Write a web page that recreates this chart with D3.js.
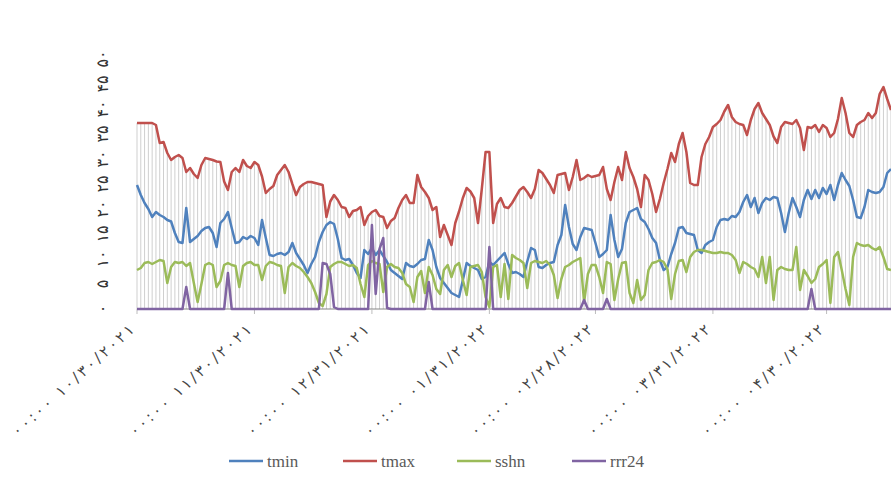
<!DOCTYPE html>
<html>
<head>
  <meta charset="utf-8">
  <title>tmin tmax sshn rrr24</title>
  <script src="https://d3js.org/d3.v7.min.js"></script>
  <style>
    body { margin: 0; background: #fff; }
  </style>
</head>
<body>
<div id="chart"></div>
<script type="text/javascript">
  // daily series, 30 Oct 2021 onwards
  const startDate = new Date(2021, 9, 30);

  const tmax = [
    37.2,37.2,37.2,37.2,37.2,36.8,33.2,33.4,31.2,29.8,
    30.4,30.8,30.2,27.4,28.2,27.0,26.2,28.8,30.2,30.0,
    29.8,29.5,29.4,25.5,23.8,27.4,28.2,27.4,29.8,28.6,
    28.2,29.4,28.8,26.5,23.2,24.0,24.6,26.8,27.8,28.8,
    27.4,25.0,22.8,24.4,25.0,25.4,25.4,25.2,25.0,24.8,
    18.4,21.5,22.8,21.8,20.4,20.2,18.4,19.6,19.8,20.4,
    16.8,18.6,19.4,19.8,18.6,18.4,16.2,17.6,18.2,20.2,
    21.8,22.8,21.2,21.2,26.8,24.4,23.4,22.2,19.8,20.4,
    14.4,16.8,14.8,12.8,17.2,19.5,22.2,24.2,23.5,22.2,
    17.2,24.0,31.4,31.4,17.2,21.0,22.2,20.4,20.2,21.2,
    22.5,23.8,24.4,23.4,22.2,24.0,27.8,27.2,26.0,24.8,
    23.2,26.8,27.0,27.2,23.8,26.4,29.8,25.8,26.2,26.8,
    26.4,26.6,26.8,28.4,24.0,21.8,25.4,28.4,25.8,31.4,
    28.2,26.4,24.0,20.4,26.8,25.8,23.0,19.4,22.0,25.2,
    28.0,31.2,29.4,33.0,35.2,31.4,25.2,24.8,24.8,30.4,
    33.0,34.4,36.4,37.0,37.8,39.5,40.8,38.4,37.4,37.0,
    36.8,34.8,37.8,40.0,41.2,39.2,38.0,36.8,34.5,33.2,
    36.4,37.4,37.2,37.0,37.8,36.2,31.8,36.4,36.2,36.8,
    35.4,36.8,36.2,34.4,35.2,38.0,42.2,39.2,35.2,34.4,
    36.8,37.4,37.8,39.2,38.2,39.2,43.0,44.4,42.0,39.8
  ];

  const tmin = [
    24.8,22.8,21.2,20.0,18.4,19.4,18.8,18.4,17.8,17.5,
    15.2,13.4,13.2,20.2,13.4,14.0,14.6,15.6,16.2,16.4,
    15.2,12.4,17.2,18.0,19.4,16.2,13.2,13.4,14.4,14.0,
    14.6,14.2,12.8,17.8,14.2,10.8,10.6,11.0,11.2,10.8,
    11.4,13.2,11.2,10.0,8.8,7.2,9.0,10.4,13.4,15.4,
    16.8,17.4,17.0,14.0,10.2,9.8,10.0,8.8,7.2,6.2,
    11.8,11.0,12.2,10.8,11.8,10.6,9.4,7.8,7.2,6.6,
    6.0,9.2,8.6,8.4,9.0,9.8,10.0,13.8,11.8,8.4,
    6.2,5.2,4.2,3.2,2.8,2.4,5.8,9.2,8.6,8.2,
    7.8,6.0,6.4,9.4,8.8,9.6,10.4,11.2,9.0,7.2,
    7.4,7.0,6.4,9.5,12.2,11.8,8.4,8.2,8.8,9.2,
    9.4,12.8,14.8,20.8,16.4,13.0,11.8,14.4,16.2,16.0,
    15.8,13.2,10.4,11.0,11.8,18.8,13.8,10.4,12.0,17.2,
    19.4,19.8,20.2,18.0,17.4,16.0,14.2,13.2,9.8,7.8,
    8.4,11.0,13.2,16.2,16.4,15.2,15.0,14.8,11.8,11.2,
    12.8,13.4,13.8,16.4,17.8,18.0,17.8,18.6,18.4,19.4,
    21.4,22.8,20.4,22.2,19.2,21.2,22.2,21.8,22.4,22.2,
    19.2,15.4,19.2,22.2,20.4,18.4,21.8,23.8,22.0,23.8,
    22.2,24.2,23.0,24.8,21.8,24.8,27.2,25.8,24.6,21.8,
    18.4,18.2,20.4,23.8,23.4,23.2,23.4,24.4,27.2,28.0
  ];

  const sshn = [
    7.8,8.2,9.2,9.4,9.0,9.4,9.8,9.6,5.2,8.4,
    9.4,9.2,9.4,8.6,9.2,5.2,1.4,5.0,8.8,9.2,
    8.8,4.4,5.6,8.8,9.2,8.8,8.6,4.4,8.6,9.2,
    9.4,8.8,8.8,5.8,8.6,9.4,9.2,8.8,8.6,3.2,
    8.4,9.2,8.6,8.2,7.4,6.4,5.2,3.4,1.2,0.6,
    3.0,8.4,9.0,9.4,9.4,9.0,8.6,8.8,8.2,5.0,
    2.4,8.8,9.6,9.2,9.0,3.4,8.4,9.0,8.4,8.2,
    7.2,5.0,4.4,1.4,6.4,7.6,3.2,8.4,6.8,4.0,
    3.0,7.8,8.8,6.4,8.6,9.2,5.8,2.8,8.4,8.6,
    8.8,7.4,2.4,0.4,8.4,8.8,2.4,9.0,2.0,10.8,
    10.2,9.8,9.2,4.2,9.2,9.6,9.4,9.2,9.6,8.8,
    6.8,2.2,6.0,8.4,8.8,9.4,9.8,10.2,1.4,7.0,
    8.8,8.8,6.4,3.2,9.4,9.0,1.8,6.0,9.2,9.4,
    3.2,1.2,5.8,1.8,2.8,7.8,9.2,9.4,9.8,9.4,
    8.0,2.0,7.0,9.6,9.8,7.4,10.4,11.4,11.8,11.8,
    11.6,11.4,11.2,11.2,11.4,11.2,11.2,10.8,9.8,7.2,
    9.4,9.0,8.4,8.0,6.4,10.4,5.2,10.4,1.8,7.8,
    8.4,8.0,7.8,7.8,12.4,3.8,7.8,6.6,5.2,6.0,
    8.4,9.0,9.8,1.2,10.4,11.4,7.8,4.0,0.8,10.4,
    13.2,12.8,12.6,12.8,12.2,11.8,12.4,10.4,8.0,7.8
  ];

  const rrr24 = [
    0,0,0,0,0,0,0,0,0,0, 0,0,0,4.4,0,0,0,0,0,0,
    0,0,0,0,7.2,0,0,0,0,0, 0,0,0,0,0,0,0,0,0,0,
    0,0,0,0,0,0,0,0,0,9.2, 9.0,7.0,0.4,0,0,0,0,0,0,0,
    0,0,16.8,3.0,12.0,14.2,0.2,0,0,0, 0,0,0,0,0,0,0,5.4,0,0,
    0,0,0,0,0,0,0,0,0,0, 0,0,0,12.4,0,0,0,0,0,0,
    0,0,0,0,0,0,0,0,0,0, 0,0,0,0,0,0,0,0,1.8,0,
    0,0,0,0,2.0,0,0,0,0,0, 0,0,0,0,0,0,0,0,0,0,
    0,0,0,0,0,0,0,0,0,0, 0,0,0,0,0,0,0,0,0,0,
    0,0,0,0,0,0,0,0,0,0, 0,0,0,0,0,0,0,0,4.0,0,
    0,0,0,0,0,0,0,0,0,0, 0,0,0,0,0,0,0,0,0,0
  ];

  const seriesNames = ['tmin', 'tmax', 'sshn', 'rrr24'];
  const seriesColors = ['#4f81bd', '#c0504d', '#9bbb59', '#8064a2'];

  const yTicks = [0, 5, 10, 15, 20, 25, 30, 35, 40, 45, 50];
  const yTickLabels = ['۰', '۵', '۱۰', '۱۵', '۲۰', '۲۵', '۳۰', '۳۵', '۴۰', '۴۵', '۵۰'];

  const xTickDates = [
    new Date(2021, 9, 30), new Date(2021, 10, 30), new Date(2021, 11, 31),
    new Date(2022, 0, 31), new Date(2022, 1, 28), new Date(2022, 2, 31),
    new Date(2022, 3, 30)
  ];
  const xTickLabels = [
    '۰۰:۰۰ ۱۰/۳۰/۲۰۲۱', '۰۰:۰۰ ۱۱/۳۰/۲۰۲۱', '۰۰:۰۰ ۱۲/۳۱/۲۰۲۱',
    '۰۰:۰۰ ۰۱/۳۱/۲۰۲۲', '۰۰:۰۰ ۰۲/۲۸/۲۰۲۲', '۰۰:۰۰ ۰۳/۳۱/۲۰۲۲',
    '۰۰:۰۰ ۰۴/۳۰/۲۰۲۲'
  ];

  const W = 891, H = 490;
  const dates = tmax.map((v, i) => d3.timeDay.offset(startDate, i));

  const svg = d3.select('#chart')
    .append('svg')
      .attr('width', W)
      .attr('height', H)
      .style('display', 'block');

  const x = d3.scaleTime()
    .domain([dates[0], dates[dates.length - 1]])
    .range([137, 891]);

  const y = d3.scaleLinear()
    .domain([0, 50])
    .range([309, 59]);

  // drop lines (light gray verticals up to the highest series)
  const series = [tmin, tmax, sshn, rrr24];
  svg.append('g')
    .selectAll('line')
    .data(dates)
    .join('line')
      .attr('x1', d => x(d))
      .attr('x2', d => x(d))
      .attr('y1', y(0))
      .attr('y2', (d, i) => y(d3.max(series, s => s[i])))
      .attr('stroke', '#cfcfcf')
      .attr('stroke-width', 1);

  // x axis line and ticks
  svg.append('line')
    .attr('x1', 137).attr('x2', W)
    .attr('y1', y(0)).attr('y2', y(0))
    .attr('stroke', '#868686');

  svg.append('g')
    .selectAll('line')
    .data(xTickDates)
    .join('line')
      .attr('x1', d => x(d)).attr('x2', d => x(d))
      .attr('y1', y(0)).attr('y2', y(0) + 5)
      .attr('stroke', '#bdbdbd');

  // date labels: letter-spacing is ignored for this script, so stretch with textLength
  svg.append('g')
    .selectAll('text')
    .data(xTickDates)
    .join('text')
      .attr('transform', d => `translate(${x(d) - 2},${y(0) + 22}) rotate(-42)`)
      .attr('text-anchor', 'end')
      .attr('font-family', 'DejaVu Sans, sans-serif')
      .attr('font-size', '15px')
      .attr('textLength', 158)
      .attr('lengthAdjust', 'spacing')
      .attr('fill', '#444')
      .text((d, i) => xTickLabels[i]);

  // y labels, rotated
  svg.append('g')
    .selectAll('text')
    .data(yTicks)
    .join('text')
      .attr('transform', d => `translate(108,${y(d)}) rotate(-90)`)
      .attr('text-anchor', 'middle')
      .attr('font-family', 'DejaVu Sans, sans-serif')
      .attr('font-size', '16px')
      .attr('fill', '#333')
      .text((d, i) => yTickLabels[i]);

  // lines
  const line = d3.line()
    .x((d, i) => x(dates[i]))
    .y(d => y(d));

  series.forEach((s, k) => {
    svg.append('path')
      .datum(s)
      .attr('d', line)
      .attr('fill', 'none')
      .attr('stroke', seriesColors[k])
      .attr('stroke-width', 2.5)
      .attr('stroke-linejoin', 'round');
  });

  // legend
  const legendX = [229, 343, 457, 572];
  const legend = svg.append('g');
  seriesNames.forEach((name, k) => {
    legend.append('line')
      .attr('x1', legendX[k]).attr('x2', legendX[k] + 34)
      .attr('y1', 461).attr('y2', 461)
      .attr('stroke', seriesColors[k])
      .attr('stroke-width', 2.5);
    legend.append('text')
      .attr('x', legendX[k] + 38)
      .attr('y', 467)
      .attr('font-family', 'Liberation Serif, serif')
      .attr('font-size', '17px')
      .attr('fill', '#595959')
      .text(name);
  });
</script>
</body>
</html>
